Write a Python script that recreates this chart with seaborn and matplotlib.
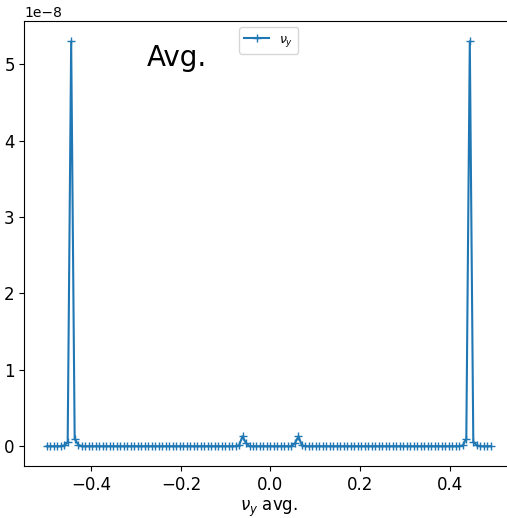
import numpy as np
import matplotlib
matplotlib.use("Agg")
import matplotlib.pyplot as plt
import seaborn as sns

# frequency bins (fftshift of fftfreq, N = 128)
freq = np.fft.fftshift(np.fft.fftfreq(128))

# amplitude values in units of 1e-8
amp_e8 = [
    0, 0, 0, 0, 0, 0.01, 0.05, 5.30, 0.10, 0.02, 0, 0, 0, 0, 0, 0,
    0, 0, 0, 0, 0, 0, 0, 0, 0, 0, 0, 0, 0, 0, 0, 0,
    0, 0, 0, 0, 0, 0, 0, 0, 0, 0, 0, 0, 0, 0, 0, 0,
    0, 0, 0, 0, 0, 0, 0, 0.01, 0.13, 0.04, 0, 0, 0, 0, 0, 0,
    0, 0, 0, 0, 0, 0, 0, 0.04, 0.13, 0.01, 0, 0, 0, 0, 0, 0,
    0, 0, 0, 0, 0, 0, 0, 0, 0, 0, 0, 0, 0, 0, 0, 0,
    0, 0, 0, 0, 0, 0, 0, 0, 0, 0, 0, 0, 0, 0, 0, 0,
    0, 0, 0, 0, 0, 0, 0, 0.01, 0.10, 5.30, 0.06, 0.01, 0, 0, 0, 0,
]
amp = np.array(amp_e8) * 1e-8

series_label = r"$\nu_y$"
x_label = r"$\nu_y$ avg."
title_text = "Avg."

plt.rcParams['font.family'] = ['DejaVu Sans']
fig = plt.figure(figsize=(5.07, 5.18), dpi=100)
ax = fig.add_axes([0.0483, 0.0995, 0.9635, 0.8595])

line_color = '#1f77b4'
sns.lineplot(x=freq, y=amp, ax=ax, marker='+', markersize=6, color=line_color,
             label=series_label, markeredgewidth=1.0, markeredgecolor=line_color,
             markerfacecolor=line_color, linewidth=1.5)

ax.tick_params(labelsize=12)
ax.set_xlabel(x_label, fontsize=12, labelpad=3)
ax.set_ylabel("")
ax.yaxis.get_offset_text().set_fontsize(10)
ax.text(0.25, 0.9, title_text, transform=ax.transAxes, fontsize=20)
ax.legend(loc='upper center', fontsize=9)

fig.savefig("out.png", dpi=100)
